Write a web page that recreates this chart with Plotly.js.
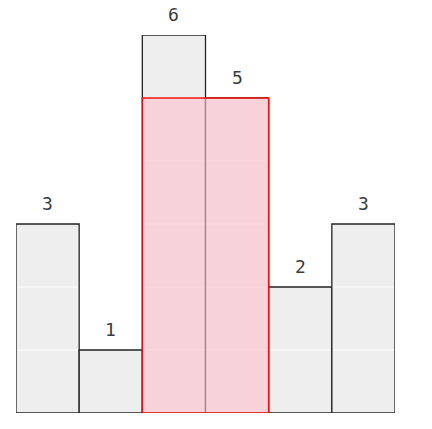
<!DOCTYPE html>
<html>
<head>
<meta charset="utf-8">
<script src="https://cdn.plot.ly/plotly-3.0.1.min.js"></script>
<style>html,body{margin:0;padding:0;background:#fff;}#chart{width:432px;height:429px;}</style>
</head>
<body>
<div id="chart"></div>
<script>
const positions = [0, 1, 2, 3, 4, 5];
const heights = [3, 1, 6, 5, 2, 3];
const highlightStart = 2;
const highlightEnd = 3;
const highlightHeight = 5;
const gridLevels = [1, 2, 3, 4, 5];

const shapes = [];
positions.forEach((p, i) => {
  gridLevels.forEach(v => {
    if (v < heights[i]) {
      shapes.push({
        type: 'line', xref: 'x', yref: 'y', x0: p - 0.48, x1: p + 0.48, y0: v, y1: v,
        line: {color: 'rgba(255,255,255,0.95)', width: 1}, layer: 'above'
      });
    }
  });
});
shapes.push({
  type: 'rect', xref: 'x', yref: 'y',
  x0: highlightStart - 0.5, x1: highlightEnd + 0.5, y0: 0, y1: highlightHeight,
  fillcolor: 'rgba(255,192,203,0.6)', line: {color: '#ee1111', width: 1.5}, layer: 'above'
});

const annotations = positions.map((p, i) => ({
  x: p, y: heights[i], xref: 'x', yref: 'y', text: String(heights[i]),
  showarrow: false, yanchor: 'bottom', yshift: 8,
  font: {family: 'DejaVu Sans Mono, monospace', size: 18, color: '#3a3a3a'}
}));

Plotly.newPlot('chart', [{
  type: 'bar', x: positions, y: heights,
  marker: {color: '#eeeeee', line: {color: '#222', width: 1.3}},
  hoverinfo: 'none'
}], {
  width: 432, height: 429,
  margin: {l: 16, r: 37, t: 35, b: 16},
  paper_bgcolor: '#fff', plot_bgcolor: '#fff',
  bargap: 0,
  showlegend: false,
  xaxis: {range: [-0.5, 5.5], visible: false, fixedrange: true},
  yaxis: {range: [0, 6], visible: false, fixedrange: true},
  shapes: shapes,
  annotations: annotations
}, {staticPlot: true});
</script>
</body>
</html>
